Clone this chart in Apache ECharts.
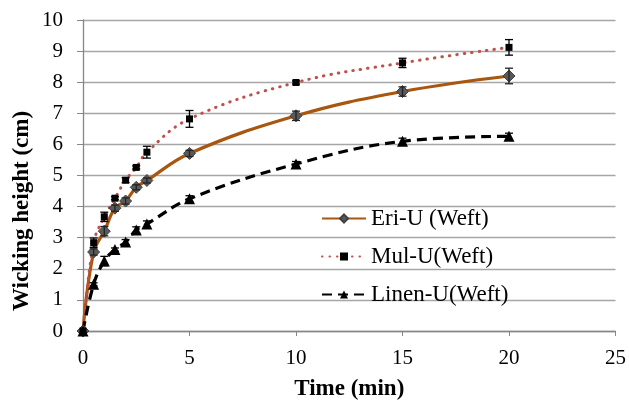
<!DOCTYPE html>
<html><head><meta charset="utf-8">
<script src="https://cdn.jsdelivr.net/npm/echarts@6/dist/echarts.min.js"></script>
<style>html,body{margin:0;padding:0;background:#fff}#c{width:629px;height:406px}</style>
</head><body><div id="c"></div>
<script>
const times = [0, 0.5, 1, 1.5, 2, 2.5, 3, 5, 10, 15, 20];
const eriValues = [0, 2.54, 3.21, 3.95, 4.18, 4.62, 4.84, 5.71, 6.92, 7.70, 8.20];
const eriErrors = [0, 0.1, 0.15, 0.1, 0.1, 0.08, 0.08, 0.1, 0.15, 0.15, 0.25];
const mulValues = [0, 2.84, 3.67, 4.27, 4.85, 5.26, 5.75, 6.82, 7.99, 8.62, 9.12];
const mulErrors = [0, 0.15, 0.15, 0.05, 0.08, 0.05, 0.19, 0.27, 0.05, 0.15, 0.25];
const linenValues = [0, 1.50, 2.25, 2.62, 2.86, 3.25, 3.44, 4.25, 5.37, 6.10, 6.26];
const linenErrors = [0, 0.05, 0.15, 0.05, 0.08, 0.1, 0.1, 0.1, 0.08, 0.1, 0.1];
const xTicks = [0, 5, 10, 15, 20, 25];
const yTicks = [0, 1, 2, 3, 4, 5, 6, 7, 8, 9, 10];
const seriesNames = ['Eri-U (Weft)', 'Mul-U(Weft)', 'Linen-U(Weft)'];
const yTitle = 'Wicking height (cm)';
const xTitle = 'Time (min)';

const serif = '"Liberation Serif","Times New Roman",serif';
function pairs(vals){ return times.map((t,i)=>[t, vals[i]]); }
function errData(vals, errs){ return times.map((t,i)=>[t, vals[i]-errs[i], vals[i]+errs[i]]).filter((d,i)=>errs[i]>0); }
function errSeries(vals, errs, color){
  return {
    type:'custom', silent:true, z:5,
    data: errData(vals, errs),
    renderItem: function(params, api){
      const x = api.value(0);
      const lo = api.coord([x, api.value(1)]);
      const hi = api.coord([x, api.value(2)]);
      const w = 4;
      const st = {stroke: color, lineWidth: 1.3};
      return {type:'group', children:[
        {type:'line', shape:{x1:lo[0],y1:lo[1],x2:hi[0],y2:hi[1]}, style:st},
        {type:'line', shape:{x1:lo[0]-w,y1:lo[1],x2:lo[0]+w,y2:lo[1]}, style:st},
        {type:'line', shape:{x1:hi[0]-w,y1:hi[1],x2:hi[0]+w,y2:hi[1]}, style:st}
      ]};
    }
  };
}

const chart = echarts.init(document.getElementById('c'), null, {renderer:'canvas'});
chart.setOption({
  animation:false,
  backgroundColor:'#fff',
  grid:{left:83, right:11, top:20, bottom:72},
  graphic:[{
    type:'text', x:22, y:211, rotation:Math.PI/2,
    style:{text:yTitle, font:'bold 23px ' + serif, fill:'#000', align:'center', verticalAlign:'middle'}
  }],
  xAxis:{
    type:'value', min:xTicks[0], max:xTicks[xTicks.length-1], interval:5,
    name:xTitle, nameLocation:'middle', nameGap:47,
    nameTextStyle:{fontFamily:serif, fontWeight:'bold', fontSize:23, color:'#000'},
    axisLine:{show:true, lineStyle:{color:'#868686', width:1.3}},
    axisTick:{show:true, length:5, inside:false, lineStyle:{color:'#868686'}},
    axisLabel:{fontFamily:serif, fontSize:21, color:'#000', margin:17},
    splitLine:{show:false}
  },
  yAxis:{
    type:'value', min:yTicks[0], max:yTicks[yTicks.length-1], interval:1,
    axisLine:{show:true, lineStyle:{color:'#868686', width:1.3}},
    axisTick:{show:true, length:6, lineStyle:{color:'#868686'}},
    axisLabel:{fontFamily:serif, fontSize:21, color:'#000', margin:20},
    splitLine:{show:true, lineStyle:{color:'#A6A6A6', width:1.3}}
  },
  legend:{
    orient:'vertical', left:321, top:207, itemWidth:44, itemHeight:10, itemGap:15,
    data: seriesNames,
    textStyle:{fontFamily:serif, fontSize:23, color:'#000'},
    padding:0
  },
  series:[
    {name:seriesNames[0], type:'line', data:pairs(eriValues), smooth:0.4, z:3,
     symbol:'diamond', symbolSize:12,
     lineStyle:{color:'#A9560E', width:3.2},
     itemStyle:{color:'#595959', borderColor:'#404040', borderWidth:1}},
    {name:seriesNames[1], type:'line', data:pairs(mulValues), smooth:0.4, z:3,
     symbol:'rect', symbolSize:7,
     lineStyle:{color:'#C0504D', width:3, type:[0.5,7], cap:'round'},
     itemStyle:{color:'#000'}},
    {name:seriesNames[2], type:'line', data:pairs(linenValues), smooth:0.4, z:3,
     symbol:'triangle', symbolSize:11,
     lineStyle:{color:'#000', width:3.2, type:[10,6]},
     itemStyle:{color:'#000'}},
    errSeries(eriValues, eriErrors, '#222'),
    errSeries(mulValues, mulErrors, '#000'),
    errSeries(linenValues, linenErrors, '#000')
  ]
});
</script></body></html>
